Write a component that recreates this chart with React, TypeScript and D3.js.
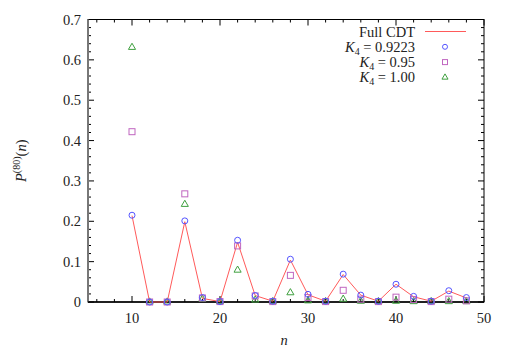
import React, { useEffect, useRef } from 'react';
import * as d3 from 'd3';

const W = 514;
const H = 353;
const margin = { top: 19.5, right: 30, bottom: 51, left: 88 };
const width = W - margin.left - margin.right;
const height = H - margin.top - margin.bottom;

// n values (even sizes)
const nValues = [10, 12, 14, 16, 18, 20, 22, 24, 26, 28, 30, 32, 34, 36, 38, 40, 42, 44, 46, 48];

// Full CDT (line)
const fullCDT = [0.214, 0, 0, 0.199, 0.009, 0.001, 0.148, 0.016, 0.002, 0.104, 0.018, 0.002, 0.068, 0.017, 0.002, 0.044, 0.013, 0.002, 0.027, 0.010];
// K4 = 0.9223 (circles)
const k4a = [0.215, 0, 0, 0.201, 0.011, 0.001, 0.153, 0.016, 0.002, 0.106, 0.019, 0.002, 0.069, 0.017, 0.002, 0.044, 0.014, 0.002, 0.028, 0.011];
// K4 = 0.95 (squares)
const k4b = [0.422, 0, 0, 0.268, 0.010, 0.001, 0.139, 0.015, 0.001, 0.066, 0.011, 0.001, 0.029, 0.007, 0.001, 0.012, 0.006, 0.001, 0.007, 0.003];
// K4 = 1.00 (triangles)
const k4c = [0.631, 0, 0, 0.242, 0.007, 0.001, 0.079, 0.005, 0.001, 0.023, 0.003, 0.001, 0.007, 0.002, 0.001, 0.002, 0.001, 0.001, 0.001, 0.001];

const xTicks = [10, 20, 30, 40, 50];
const yTicks = [0, 0.1, 0.2, 0.3, 0.4, 0.5, 0.6, 0.7];

const RED = '#ff5a5a';
const BLUE = '#5555ff';
const PURPLE = '#c066c0';
const GREEN = '#3fa03f';
const FONT = '"Liberation Serif", "DejaVu Serif", serif';

export default function App() {
    const ref = useRef<SVGSVGElement>(null);

    useEffect(() => {
        const root = d3.select(ref.current);
        root.selectAll('*').remove();

        const x = d3.scaleLinear().domain([5, 50]).range([0, width]);
        const y = d3.scaleLinear().domain([0, 0.7]).range([height, 0]);

        const svg = root.append('g')
            .attr('transform', `translate(${margin.left},${margin.top})`);

        // minor + major ticks, mirrored on all four sides (inward)
        const xMinor = d3.range(6, 50, 2).filter(v => v % 10 !== 0);
        const yMinor = d3.range(0, 70, 2).map(v => v / 100).filter((_, i) => i % 5 !== 0);
        const ticks = svg.append('g').attr('stroke', '#000').attr('stroke-width', 1);

        xTicks.forEach(v => {
            ticks.append('line').attr('x1', x(v)).attr('x2', x(v)).attr('y1', height).attr('y2', height - 6);
            ticks.append('line').attr('x1', x(v)).attr('x2', x(v)).attr('y1', 0).attr('y2', 6);
        });
        xMinor.forEach(v => {
            ticks.append('line').attr('x1', x(v)).attr('x2', x(v)).attr('y1', height).attr('y2', height - 3);
            ticks.append('line').attr('x1', x(v)).attr('x2', x(v)).attr('y1', 0).attr('y2', 3);
        });
        yTicks.forEach(v => {
            ticks.append('line').attr('x1', 0).attr('x2', 6).attr('y1', y(v)).attr('y2', y(v));
            ticks.append('line').attr('x1', width).attr('x2', width - 6).attr('y1', y(v)).attr('y2', y(v));
        });
        yMinor.forEach(v => {
            ticks.append('line').attr('x1', 0).attr('x2', 3).attr('y1', y(v)).attr('y2', y(v));
            ticks.append('line').attr('x1', width).attr('x2', width - 3).attr('y1', y(v)).attr('y2', y(v));
        });

        // border
        svg.append('rect')
            .attr('x', 0).attr('y', 0).attr('width', width).attr('height', height)
            .attr('fill', 'none').attr('stroke', '#000').attr('stroke-width', 1);
        svg.append('line')
            .attr('x1', 0).attr('x2', 0).attr('y1', 0).attr('y2', height)
            .attr('stroke', '#777').attr('stroke-width', 2);
        svg.append('line')
            .attr('x1', 0).attr('x2', width).attr('y1', height).attr('y2', height)
            .attr('stroke', '#000').attr('stroke-width', 1.5);

        // tick labels
        svg.append('g').selectAll('text')
            .data(xTicks).enter()
            .append('text')
            .attr('x', d => x(d)).attr('y', height + 21)
            .attr('text-anchor', 'middle')
            .attr('font-family', FONT).attr('font-size', 14.5).attr('fill', '#222')
            .text(d => d);
        svg.append('g').selectAll('text')
            .data(yTicks).enter()
            .append('text')
            .attr('x', -7).attr('y', d => y(d) + 5)
            .attr('text-anchor', 'end')
            .attr('font-family', FONT).attr('font-size', 14.5).attr('fill', '#222')
            .text(d => d === 0 ? '0' : d3.format('.1f')(d));

        // axis titles
        svg.append('text')
            .attr('x', width / 2 - 2)
            .attr('y', height + 43)
            .attr('text-anchor', 'middle')
            .attr('font-family', FONT).attr('font-size', 14.5).attr('font-style', 'italic').attr('fill', '#222')
            .text('n');

        const yl = svg.append('text')
            .attr('transform', `translate(${-62},${height / 2}) rotate(-90)`)
            .attr('text-anchor', 'middle')
            .attr('font-family', FONT).attr('font-size', 14.5).attr('fill', '#222');
        yl.append('tspan').attr('font-style', 'italic').text('P');
        yl.append('tspan').attr('font-size', 10).attr('dy', -6).text('(80)');
        yl.append('tspan').attr('dy', 6).text('(');
        yl.append('tspan').attr('font-style', 'italic').text('n');
        yl.append('tspan').text(')');

        // Full CDT line
        const line = d3.line<number>()
            .x((_, i) => x(nValues[i]))
            .y(d => y(d));
        svg.append('path')
            .datum(fullCDT)
            .attr('d', line)
            .attr('fill', 'none').attr('stroke', RED).attr('stroke-width', 1);

        // markers
        const tri = d3.symbol().type(d3.symbolTriangle).size(22);
        svg.append('g').selectAll('path')
            .data(k4c).enter()
            .append('path')
            .attr('d', tri)
            .attr('transform', (d, i) => `translate(${x(nValues[i])},${y(d)})`)
            .attr('fill', 'none').attr('stroke', GREEN).attr('stroke-width', 1);
        svg.append('g').selectAll('rect')
            .data(k4b).enter()
            .append('rect')
            .attr('x', (d, i) => x(nValues[i]) - 3)
            .attr('y', d => y(d) - 3)
            .attr('width', 6).attr('height', 6)
            .attr('fill', 'none').attr('stroke', PURPLE).attr('stroke-width', 1);
        svg.append('g').selectAll('circle')
            .data(k4a).enter()
            .append('circle')
            .attr('cx', (d, i) => x(nValues[i]))
            .attr('cy', d => y(d))
            .attr('r', 3)
            .attr('fill', 'none').attr('stroke', BLUE).attr('stroke-width', 1);

        // legend
        const legend = svg.append('g');
        const rows = [
            { label: 'Full CDT', k: '' },
            { label: ' = 0.9223', k: 'K' },
            { label: ' = 0.95', k: 'K' },
            { label: ' = 1.00', k: 'K' },
        ];
        const textRight = 415 - margin.left;
        const symX = 445 - margin.left;
        rows.forEach((r, i) => {
            const cy = 31.5 - margin.top + i * 15.3;
            const t = legend.append('text')
                .attr('x', textRight).attr('y', cy + 5)
                .attr('text-anchor', 'end')
                .attr('font-family', FONT).attr('font-size', 14.5).attr('fill', '#222');
            if (r.k) {
                t.append('tspan').attr('font-style', 'italic').text('K');
                t.append('tspan').attr('font-size', 10).attr('dy', 3).text('4');
                t.append('tspan').attr('dy', -3).text(r.label);
            } else {
                t.text(r.label);
            }
            if (i === 0) {
                legend.append('line')
                    .attr('x1', 425 - margin.left).attr('x2', 466 - margin.left)
                    .attr('y1', cy).attr('y2', cy)
                    .attr('stroke', RED).attr('stroke-width', 1);
            } else if (i === 1) {
                legend.append('circle').attr('cx', symX).attr('cy', cy).attr('r', 2.5)
                    .attr('fill', 'none').attr('stroke', BLUE);
            } else if (i === 2) {
                legend.append('rect').attr('x', symX - 2.5).attr('y', cy - 2.5).attr('width', 5).attr('height', 5)
                    .attr('fill', 'none').attr('stroke', PURPLE);
            } else {
                legend.append('path').attr('d', d3.symbol().type(d3.symbolTriangle).size(16)())
                    .attr('transform', `translate(${symX},${cy})`)
                    .attr('fill', 'none').attr('stroke', GREEN);
            }
        });
    }, []);

    return (
        <svg ref={ref} width={W} height={H}
            style={{ position: 'absolute', left: 0, top: 0, background: '#fff' }}>
        </svg>
    );
}
